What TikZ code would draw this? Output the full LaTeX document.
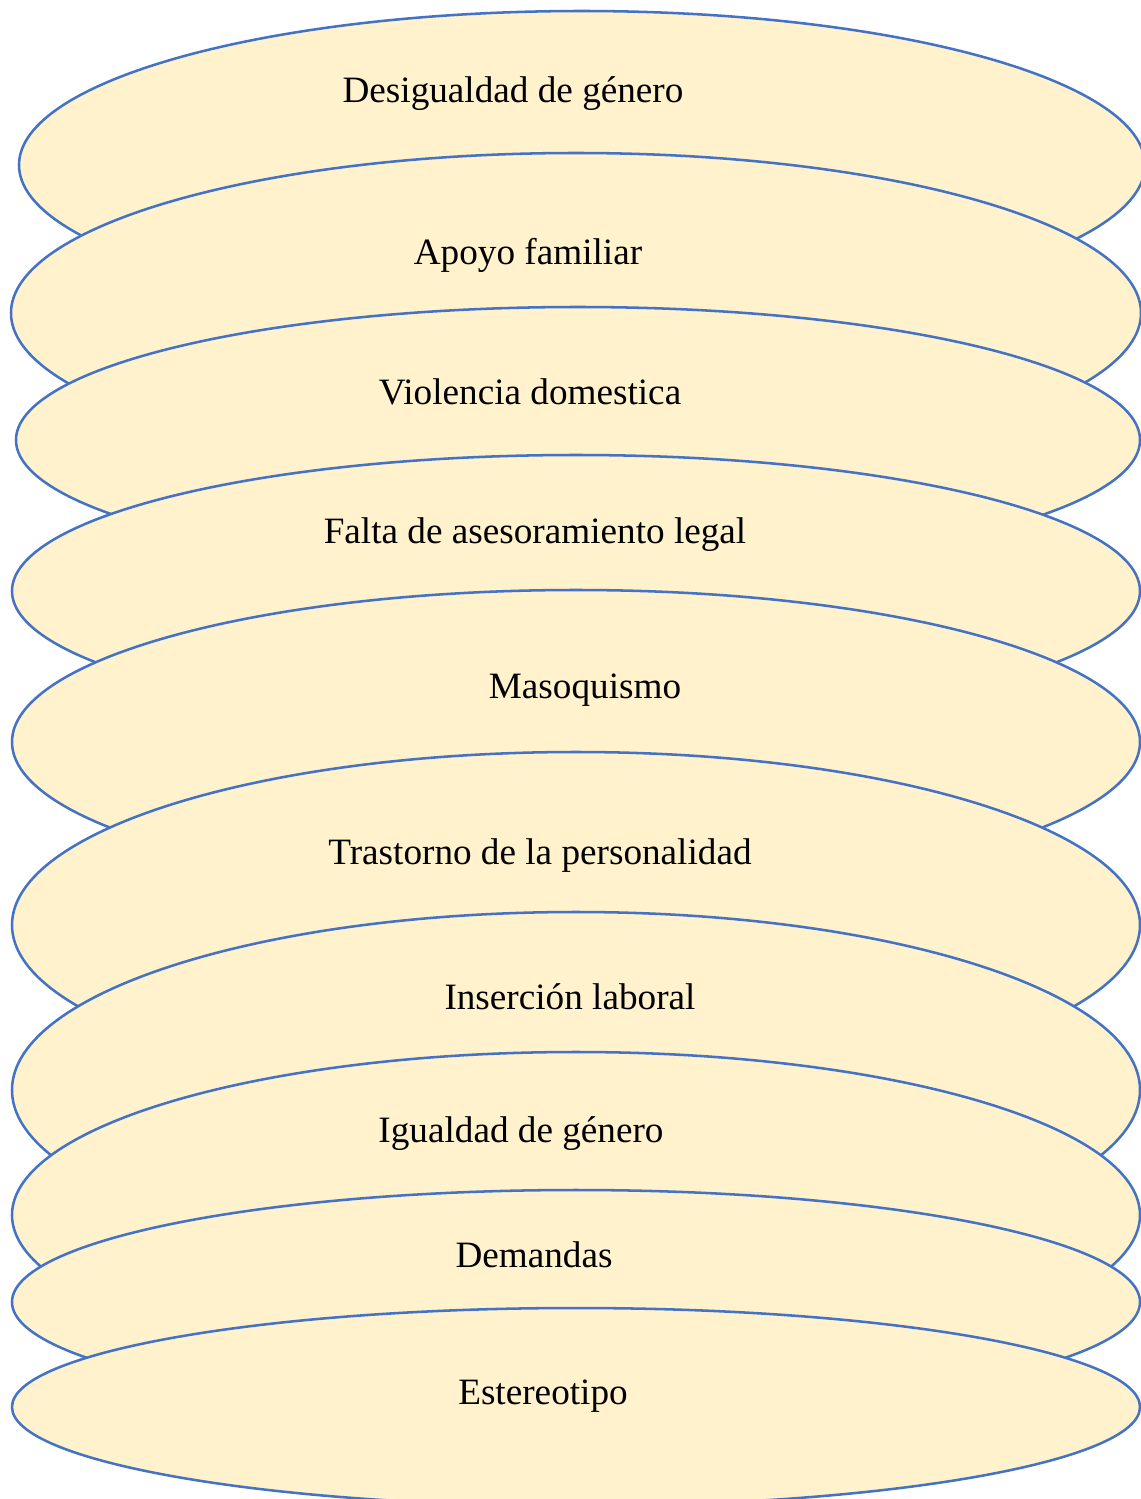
\documentclass[tikz,border=0pt]{standalone}
\usepackage{fontspec}
\setmainfont{Liberation Serif}
\usetikzlibrary{shapes.geometric}
\definecolor{ovalfill}{RGB}{255,242,204}
\definecolor{ovalblue}{RGB}{68,114,196}

\begin{document}
\begin{tikzpicture}[x=0.75pt, y=-0.75pt,
    oval/.style={ellipse, draw=ovalblue, fill=ovalfill, line width=1.9pt,
                 inner sep=0pt},
    lbl/.style={anchor=base, inner sep=0pt,
                font=\fontsize{27.9}{33}\selectfont}
  ]
    \useasboundingbox (0,0) rectangle (1141,1499);

    %% Ovals, drawn top to bottom so each one covers the one above
    \node[oval, minimum width=844.5pt, minimum height=231pt] (o1) at (582,165) {};
    \node[oval, minimum width=847.5pt, minimum height=240pt] (o2) at (576,313) {};
    \node[oval, minimum width=843pt, minimum height=199.5pt] (o3) at (578,440) {};
    \node[oval, minimum width=846pt, minimum height=204pt] (o4) at (576,591) {};
    \node[oval, minimum width=846pt, minimum height=228pt] (o5) at (576,742) {};
    \node[oval, minimum width=846pt, minimum height=259.5pt] (o6) at (576,925) {};
    \node[oval, minimum width=846pt, minimum height=267pt] (o7) at (576,1090) {};
    \node[oval, minimum width=846pt, minimum height=244.5pt] (o8) at (576,1215) {};
    \node[oval, minimum width=846pt, minimum height=168pt] (o9) at (576,1302) {};
    \node[oval, minimum width=846pt, minimum height=148.5pt] (o10) at (576,1407) {};

    %% Labels
    \node[lbl] (t1) at (513,102) {Desigualdad de género};
    \node[lbl] (t2) at (528,264) {Apoyo familiar};
    \node[lbl] (t3) at (530,404) {Violencia domestica};
    \node[lbl] (t4) at (535,543) {Falta de asesoramiento legal};
    \node[lbl] (t5) at (585,698) {Masoquismo};
    \node[lbl] (t6) at (540,864) {Trastorno de la personalidad};
    \node[lbl] (t7) at (570,1009) {Inserción laboral};
    \node[lbl] (t8) at (521,1142) {Igualdad de género};
    \node[lbl] (t9) at (534,1267) {Demandas};
    \node[lbl] (t10) at (543,1404) {Estereotipo};
  \end{tikzpicture}
\end{document}
